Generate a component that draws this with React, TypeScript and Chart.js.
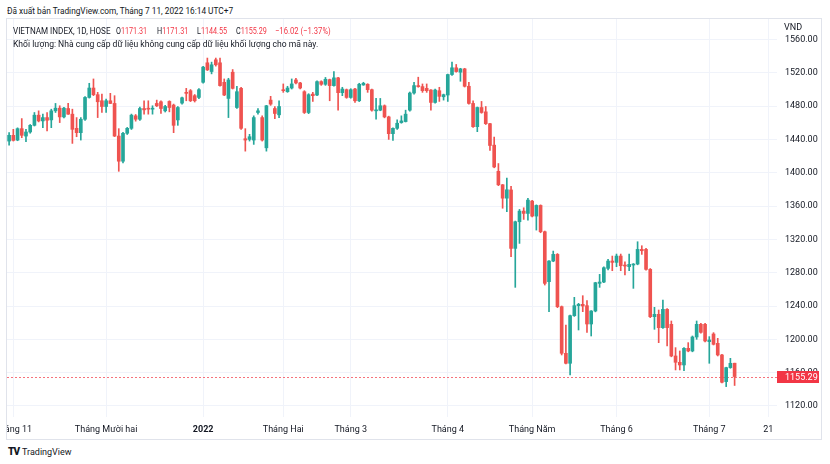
import React, { useEffect, useRef } from "react";
import { Chart, registerables } from "chart.js";

Chart.register(...registerables);

// Trading days (categories)
const dates: string[] = [
  "2021-10-29",
  "2021-11-01","2021-11-02","2021-11-03","2021-11-04","2021-11-05","2021-11-08","2021-11-09","2021-11-10","2021-11-11","2021-11-12",
  "2021-11-15","2021-11-16","2021-11-17","2021-11-18","2021-11-19","2021-11-22","2021-11-23","2021-11-24","2021-11-25","2021-11-26",
  "2021-11-29","2021-11-30",
  "2021-12-01","2021-12-02","2021-12-03","2021-12-06","2021-12-07","2021-12-08","2021-12-09","2021-12-10","2021-12-13","2021-12-14",
  "2021-12-15","2021-12-16","2021-12-17","2021-12-20","2021-12-21","2021-12-22","2021-12-23","2021-12-24","2021-12-27","2021-12-28",
  "2021-12-29","2021-12-30","2021-12-31",
  "2022-01-04","2022-01-05","2022-01-06","2022-01-07","2022-01-10","2022-01-11","2022-01-12","2022-01-13","2022-01-14","2022-01-17",
  "2022-01-18","2022-01-19","2022-01-20","2022-01-21","2022-01-24","2022-01-25","2022-01-26","2022-01-27","2022-01-28",
  "2022-02-07","2022-02-08","2022-02-09","2022-02-10","2022-02-11","2022-02-14","2022-02-15","2022-02-16","2022-02-17","2022-02-18",
  "2022-02-21","2022-02-22","2022-02-23","2022-02-24","2022-02-25","2022-02-28",
  "2022-03-01","2022-03-02","2022-03-03","2022-03-04","2022-03-07","2022-03-08","2022-03-09","2022-03-10","2022-03-11","2022-03-14",
  "2022-03-15","2022-03-16","2022-03-17","2022-03-18","2022-03-21","2022-03-22","2022-03-23","2022-03-24","2022-03-25","2022-03-28",
  "2022-03-29","2022-03-30","2022-03-31",
  "2022-04-01","2022-04-04","2022-04-05","2022-04-06","2022-04-07","2022-04-08","2022-04-12","2022-04-13","2022-04-14","2022-04-15",
  "2022-04-18","2022-04-19","2022-04-20","2022-04-21","2022-04-22","2022-04-25","2022-04-26","2022-04-27","2022-04-28","2022-04-29",
  "2022-05-04","2022-05-05","2022-05-06","2022-05-09","2022-05-10","2022-05-11","2022-05-12","2022-05-13","2022-05-16","2022-05-17",
  "2022-05-18","2022-05-19","2022-05-20","2022-05-23","2022-05-24","2022-05-25","2022-05-26","2022-05-27","2022-05-30","2022-05-31",
  "2022-06-01","2022-06-02","2022-06-03","2022-06-06","2022-06-07","2022-06-08","2022-06-09","2022-06-10","2022-06-13","2022-06-14",
  "2022-06-15","2022-06-16","2022-06-17","2022-06-20","2022-06-21","2022-06-22","2022-06-23","2022-06-24","2022-06-27","2022-06-28",
  "2022-06-29","2022-06-30",
  "2022-07-01","2022-07-04","2022-07-05","2022-07-06","2022-07-07","2022-07-08","2022-07-11",
];

// Empty future slots on the time axis
const futureDates: string[] = [
  "2022-07-12","2022-07-13","2022-07-14","2022-07-15","2022-07-18","2022-07-19","2022-07-20","2022-07-21","2022-07-22",
];

const open: number[] = [
  1438.1,1445.0,1439.3,1453.0,1444.1,1449.0,1457.0,1469.2,1462.3,1466.3,
  1463.5,1474.4,1477.6,1467.1,1477.2,1470.4,1453.4,1448.2,1464.3,1490.5,
  1501.8,1493.8,1486.5,1479.6,1486.5,1483.3,1444.1,1413.9,1447.4,1453.4,
  1468.4,1464.3,1477.2,1477.2,1476.4,1483.3,1485.3,1474.4,1485.7,1481.3,
  1463.5,1483.7,1496.2,1498.6,1492.6,1490.5,1508.7,1532.1,1521.6,1535.7,
  1532.1,1508.7,1489.3,1520.8,1478.4,1501.4,1440.9,1440.1,1439.3,1472.4,
  1466.3,1430.0,1487.3,1477.2,1469.6,1499.4,1497.4,1501.8,1511.5,1507.9,
  1497.4,1472.4,1494.5,1493.4,1509.5,1506.3,1511.9,1504.7,1514.0,1496.2,
  1499.8,1490.5,1500.6,1486.5,1505.5,1506.3,1499.8,1474.4,1475.2,1480.5,
  1467.1,1447.0,1453.4,1460.3,1461.5,1475.2,1495.8,1504.7,1503.5,1501.4,
  1499.4,1484.5,1498.6,1491.3,1493.4,1518.0,1526.1,1520.8,1524.8,1503.9,
  1483.3,1455.4,1478.4,1473.2,1459.0,1433.2,1401.8,1385.6,1369.5,1379.4,
  1309.2,1341.2,1354.0,1351.2,1366.0,1348.0,1360.8,1329.2,1269.2,1294.0,
  1302.0,1239.2,1183.2,1171.2,1228.4,1240.4,1242.0,1240.4,1218.4,1234.0,
  1267.2,1268.8,1285.2,1294.0,1292.4,1300.0,1289.2,1287.2,1289.2,1290.4,
  1308.0,1308.0,1284.0,1227.2,1230.0,1214.0,1236.0,1218.0,1180.0,1172.4,
  1169.2,1189.2,1186.0,1202.8,1218.0,1218.0,1197.2,1206.4,1195.2,1181.2,
  1149.2,1166.0,1171.31,
];

const high: number[] = [
  1448.2,1452.2,1454.0,1465.1,1452.2,1458.0,1472.4,1474.4,1470.4,1472.4,
  1476.4,1483.3,1480.5,1478.5,1483.3,1476.4,1466.3,1466.3,1491.5,1507.5,
  1512.7,1496.6,1494.5,1488.5,1495.4,1492.6,1453.0,1448.5,1454.5,1470.5,
  1470.0,1479.0,1486.5,1486.5,1480.5,1487.3,1486.5,1481.0,1486.5,1482.5,
  1479.6,1491.0,1501.4,1500.0,1494.0,1501.0,1528.0,1537.8,1532.9,1537.8,
  1537.8,1512.7,1513.5,1524.0,1503.9,1502.7,1453.0,1446.2,1468.4,1477.2,
  1468.4,1481.0,1491.8,1479.6,1486.5,1506.7,1503.9,1512.7,1513.5,1508.7,
  1498.6,1495.0,1496.6,1510.5,1510.5,1514.5,1512.5,1521.6,1514.5,1502.7,
  1500.6,1501.0,1501.5,1507.5,1508.7,1507.0,1500.5,1489.3,1489.3,1481.5,
  1468.0,1454.0,1463.5,1468.4,1475.2,1497.0,1508.7,1514.8,1506.7,1506.7,
  1500.0,1500.5,1502.7,1494.5,1518.5,1532.9,1530.1,1525.5,1525.5,1508.7,
  1486.5,1479.0,1485.7,1479.6,1459.5,1442.9,1411.1,1386.0,1393.7,1383.6,
  1342.0,1356.0,1358.0,1369.2,1367.0,1361.5,1361.5,1330.0,1294.5,1306.0,
  1303.0,1240.0,1217.2,1229.0,1250.4,1243.2,1252.4,1246.4,1234.5,1268.5,
  1278.0,1287.2,1296.0,1300.0,1302.4,1302.4,1293.2,1302.4,1291.0,1317.2,
  1312.4,1309.2,1285.0,1238.4,1235.2,1247.2,1237.0,1222.0,1190.0,1186.0,
  1190.0,1196.0,1204.0,1222.0,1219.2,1219.2,1203.2,1208.0,1201.2,1182.0,
  1166.5,1177.2,1171.31,
];

const low: number[] = [
  1433.2,1438.1,1438.5,1442.1,1437.3,1447.5,1456.2,1461.1,1454.2,1450.2,
  1454.2,1472.4,1460.3,1466.0,1470.0,1435.3,1443.3,1439.3,1463.0,1489.7,
  1492.6,1466.3,1472.4,1472.4,1483.0,1443.5,1401.8,1412.0,1446.0,1452.0,
  1462.0,1463.0,1470.4,1470.4,1470.4,1479.5,1471.2,1473.0,1473.2,1448.2,
  1457.0,1482.5,1486.5,1485.5,1485.0,1489.0,1507.5,1522.8,1518.8,1528.1,
  1504.0,1492.6,1466.3,1500.6,1477.2,1452.2,1426.0,1438.1,1434.1,1470.4,
  1438.1,1426.0,1481.0,1465.1,1466.3,1496.6,1496.6,1500.6,1506.7,1500.6,
  1471.2,1471.0,1485.7,1492.5,1505.0,1505.0,1486.5,1504.0,1475.2,1492.6,
  1489.5,1489.5,1484.5,1485.5,1505.0,1496.6,1474.0,1464.3,1474.5,1466.0,
  1440.1,1438.9,1452.2,1459.5,1461.0,1474.0,1494.5,1502.7,1496.6,1496.6,
  1475.2,1483.5,1485.7,1487.3,1485.7,1516.8,1520.8,1509.9,1503.0,1482.5,
  1454.5,1449.4,1471.5,1458.0,1426.8,1406.0,1384.5,1357.4,1353.4,1299.2,
  1262.4,1315.2,1344.0,1343.2,1347.0,1331.2,1328.0,1265.2,1233.2,1293.2,
  1238.0,1181.2,1170.5,1157.2,1227.5,1211.2,1233.2,1208.4,1204.0,1233.0,
  1262.4,1268.0,1283.2,1282.4,1287.2,1282.4,1277.2,1282.4,1261.2,1289.5,
  1302.0,1283.0,1226.0,1212.0,1196.0,1213.0,1192.0,1179.0,1163.2,1163.2,
  1162.4,1185.0,1185.0,1200.0,1207.5,1197.0,1171.2,1193.2,1180.0,1147.5,
  1143.2,1165.2,1144.55,
];

const close: number[] = [
  1445.0,1438.9,1453.0,1445.0,1449.0,1457.0,1469.2,1462.3,1466.3,1463.1,
  1474.4,1477.6,1467.1,1477.6,1470.4,1452.2,1448.2,1464.3,1490.5,1501.8,
  1493.8,1485.3,1479.6,1486.5,1483.3,1444.1,1413.9,1447.4,1453.4,1469.2,
  1464.3,1477.2,1475.6,1476.4,1477.2,1480.5,1477.2,1479.6,1478.4,1457.0,
  1478.4,1490.1,1495.4,1486.5,1486.5,1499.8,1526.9,1523.6,1529.7,1529.7,
  1504.7,1493.4,1511.5,1501.4,1497.4,1453.4,1439.3,1443.3,1466.3,1474.4,
  1439.3,1480.5,1482.5,1471.2,1479.6,1498.6,1501.8,1506.7,1507.9,1501.8,
  1472.4,1493.8,1492.6,1509.5,1506.3,1512.3,1504.7,1514.0,1496.2,1500.6,
  1490.5,1499.8,1486.5,1506.3,1507.5,1499.8,1475.2,1475.2,1480.5,1467.1,
  1447.0,1453.4,1459.5,1462.3,1470.4,1495.8,1504.7,1503.5,1498.6,1498.6,
  1484.5,1499.4,1491.8,1493.8,1518.0,1526.1,1521.6,1524.8,1503.9,1483.3,
  1455.4,1478.4,1472.4,1459.0,1432.8,1407.0,1385.6,1369.5,1379.6,1309.2,
  1341.2,1354.0,1351.2,1367.2,1348.0,1360.8,1329.2,1267.2,1294.0,1302.0,
  1239.2,1183.2,1171.2,1228.4,1240.4,1242.0,1240.0,1218.4,1234.0,1268.0,
  1268.8,1286.0,1294.0,1292.4,1300.0,1288.4,1288.0,1290.0,1290.4,1308.0,
  1306.4,1284.0,1227.2,1230.0,1214.0,1236.0,1214.0,1180.0,1172.4,1169.2,
  1189.2,1186.0,1202.8,1218.0,1208.4,1198.0,1199.2,1194.0,1181.2,1148.4,
  1166.0,1171.2,1155.29,
];

const monthTicks: [string, string][] = [
  ["2021-11-01", "Tháng 11"],
  ["2021-12-01", "Tháng Mười hai"],
  ["2022-01-04", "2022"],
  ["2022-02-07", "Tháng Hai"],
  ["2022-03-01", "Tháng 3"],
  ["2022-04-01", "Tháng 4"],
  ["2022-05-04", "Tháng Năm"],
  ["2022-06-01", "Tháng 6"],
  ["2022-07-01", "Tháng 7"],
  ["2022-07-21", "21"],
];
const boldTickLabels: string[] = ["2022"];

const priceTicks: number[] = [1120, 1160, 1200, 1240, 1280, 1320, 1360, 1400, 1440, 1480, 1520, 1560];
const lastPrice = 1155.29;

const UP = "#26a69a";
const DOWN = "#ef5350";
const TEXT = "#131722";
const GRID = "#f0f3fa";
const FONT = "Roboto, 'Noto Sans', sans-serif";

export default function App() {
  const ref = useRef<HTMLCanvasElement>(null);

  useEffect(() => {
    document.body.style.margin = "0";
    const allDates = dates.concat(futureDates);
    const tickIdx = monthTicks.map(([d]) => allDates.indexOf(d));
    const labelByIdx = new Map<number, string>();
    tickIdx.forEach((ix, k) => labelByIdx.set(ix, monthTicks[k][1]));

    const colors = dates.map((_, i) => (close[i] >= open[i] ? UP : DOWN));
    const bodies = dates.map((_, i) => ({
      x: i,
      y: [Math.min(open[i], close[i]), Math.max(open[i], close[i])],
    }));
    const wicks = dates.map((_, i) => ({ x: i, y: [low[i], high[i]] }));

    const lastPricePlugin = {
      id: "lastPrice",
      beforeDatasetsDraw(chart: any) {
        const { ctx, chartArea, scales } = chart;
        const py = Math.round(scales.y.getPixelForValue(lastPrice)) + 0.5;
        ctx.save();
        ctx.strokeStyle = "rgba(242,54,69,0.7)";
        ctx.lineWidth = 1;
        ctx.setLineDash([2, 2]);
        ctx.beginPath();
        ctx.moveTo(chartArea.left, py);
        ctx.lineTo(chartArea.right, py);
        ctx.stroke();
        ctx.restore();
      },
      afterDraw(chart: any) {
        const { ctx, chartArea, scales } = chart;
        const py = scales.y.getPixelForValue(lastPrice);
        ctx.save();
        ctx.fillStyle = "#f23645";
        ctx.fillRect(chartArea.right, Math.round(py) - 6, 42, 12);
        ctx.fillStyle = "#ffffff";
        ctx.font = `9px ${FONT}`;
        ctx.textBaseline = "middle";
        ctx.textAlign = "left";
        ctx.fillText(lastPrice.toFixed(2), chartArea.right + 8, Math.round(py) + 0.5);
        ctx.restore();
      },
    };

    const chart = new Chart(ref.current as HTMLCanvasElement, {
      type: "bar",
      data: {
        datasets: [
          {
            data: bodies as any,
            backgroundColor: colors,
            barThickness: 3,
            grouped: false,
            minBarLength: 1,
            order: 0,
          } as any,
          {
            data: wicks as any,
            backgroundColor: colors,
            barThickness: 1,
            grouped: false,
            order: 1,
          } as any,
        ],
      },
      options: {
        responsive: false,
        animation: false,
        events: [],
        layout: { padding: 0 },
        plugins: { legend: { display: false }, tooltip: { enabled: false } },
        scales: {
          x: {
            type: "linear",
            min: -0.5,
            max: 182.05,
            offset: false,
            grid: { color: GRID, drawTicks: false, offset: false },
            border: { display: false },
            afterBuildTicks: (s: any) => {
              s.ticks = tickIdx.map((v) => ({ value: v }));
            },
            afterFit: (s: any) => {
              s.height = 22;
              s.paddingLeft = 0;
              s.paddingRight = 0;
            },
            ticks: {
              autoSkip: false,
              maxRotation: 0,
              minRotation: 0,
              padding: 7,
              color: TEXT,
              font: (ctx: any) => {
                const lbl = ctx.tick ? labelByIdx.get(ctx.tick.value) : "";
                return {
                  family: FONT,
                  size: 9,
                  weight: boldTickLabels.includes(lbl as string) ? "bold" : "normal",
                };
              },
              callback: (v: any) => labelByIdx.get(Number(v)) ?? "",
            },
          },
          y: {
            type: "linear",
            position: "right",
            min: 1106.7,
            max: 1584.7,
            grid: { color: GRID, drawTicks: false },
            border: { display: false },
            afterBuildTicks: (s: any) => {
              s.ticks = priceTicks.map((v) => ({ value: v }));
            },
            afterFit: (s: any) => {
              s.width = 44;
              s.paddingTop = 0;
              s.paddingBottom = 0;
            },
            ticks: {
              padding: 8,
              color: TEXT,
              font: { family: FONT, size: 9 },
              callback: (v: any) => Number(v).toFixed(2),
            },
          },
        },
      },
      plugins: [lastPricePlugin],
    });
    return () => chart.destroy();
  }, []);

  const red = "#f23645";
  const seg = (left: number, content: React.ReactNode, scale = 0.8) => (
    <div
      style={{
        position: "absolute",
        left,
        top: 0,
        whiteSpace: "nowrap",
        transform: `scaleX(${scale})`,
        transformOrigin: "left center",
      }}
    >
      {content}
    </div>
  );
  return (
    <div
      style={{
        position: "relative",
        width: 830,
        height: 464,
        background: "#ffffff",
        fontFamily: FONT,
        color: TEXT,
        overflow: "hidden",
      }}
    >
      <div
        style={{
          position: "absolute",
          left: 7,
          top: 5,
          fontSize: 9,
          lineHeight: "12px",
          whiteSpace: "nowrap",
          transform: "scaleX(0.92)",
          transformOrigin: "left center",
        }}
      >
        Đã xuất bản TradingView.com, Tháng 7 11, 2022 16:14 UTC+7
      </div>
      <div
        style={{
          position: "absolute",
          left: 6,
          top: 18,
          width: 816,
          height: 422,
          boxSizing: "border-box",
          border: "1px solid #e0e3eb",
        }}
      >
        <canvas ref={ref} width={814} height={420} style={{ position: "absolute", left: 0, top: 0, width: 814, height: 420 }} />
        <div style={{ position: "absolute", left: 0, top: 6, width: 400, height: 12, fontSize: 9, lineHeight: "12px" }}>
          {seg(6, <span>VIETNAM INDEX, 1D, HOSE</span>, 0.9)}
          {seg(109, <span>O<span style={{ color: red }}>1171.31</span></span>)}
          {seg(150, <span>H<span style={{ color: red }}>1171.31</span></span>)}
          {seg(190, <span>L<span style={{ color: red }}>1144.55</span></span>)}
          {seg(229, <span>C<span style={{ color: red }}>1155.29</span></span>)}
          {seg(268, <span style={{ color: red }}>−16.02 (−1.37%)</span>, 0.85)}
        </div>
        <div
          style={{
            position: "absolute",
            left: 6,
            top: 19,
            fontSize: 9,
            lineHeight: "12px",
            whiteSpace: "nowrap",
            transform: "scaleX(0.95)",
            transformOrigin: "left center",
          }}
        >
          Khối lượng: Nhà cung cấp dữ liệu không cung cấp dữ liệu khối lượng cho mã này.
        </div>
        <div style={{ position: "absolute", left: 777, top: 2, fontSize: 9, lineHeight: "12px" }}>VND</div>
      </div>
      <div style={{ position: "absolute", left: 8, top: 446, display: "flex", alignItems: "center", whiteSpace: "nowrap" }}>
        <span style={{ fontSize: 10, fontWeight: 900, letterSpacing: -1, lineHeight: "12px", color: "#131722" }}>TV</span>
        <span style={{ fontSize: 9, marginLeft: 3, lineHeight: "12px" }}>TradingView</span>
      </div>
    </div>
  );
}
